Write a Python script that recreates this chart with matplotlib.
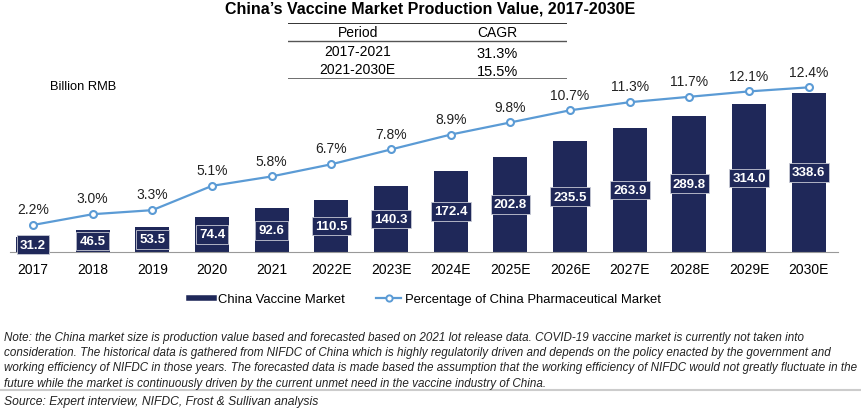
import matplotlib
matplotlib.use("Agg")
import matplotlib.pyplot as plt
from matplotlib.lines import Line2D

plt.rcParams["font.family"] = ["Liberation Sans", "DejaVu Sans"]

years = ["2017", "2018", "2019", "2020", "2021", "2022E", "2023E", "2024E",
         "2025E", "2026E", "2027E", "2028E", "2029E", "2030E"]
market = [31.2, 46.5, 53.5, 74.4, 92.6, 110.5, 140.3, 172.4, 202.8, 235.5,
          263.9, 289.8, 314.0, 338.6]
share = [2.2, 3.0, 3.3, 5.1, 5.8, 6.7, 7.8, 8.9, 9.8, 10.7, 11.3, 11.7, 12.1, 12.4]
periods = ["2017-2021", "2021-2030E"]
cagr = ["31.3%", "15.5%"]

NAVY = "#1f2859"
BLUE = "#5b9bd5"
W, H = 862, 410
NARROW = ["Liberation Sans Narrow", "Liberation Sans", "DejaVu Sans"]

fig = plt.figure(figsize=(W / 100, H / 100), dpi=100)


def fx(px):
    return px / W


def fy(py):
    return 1 - py / H


# main axes: x 10..838 px, y 60..253 px from top
ax = fig.add_axes([fx(10), fy(253), fx(828), (253 - 60) / H])
x = list(range(len(years)))
ax.bar(x, market, width=0.57, color=NAVY, zorder=2)
ax.set_ylim(0, 410)
ax.set_xlim(-0.385, 13.49)
for s in ["top", "right", "left"]:
    ax.spines[s].set_visible(False)
ax.spines["bottom"].set_color("#999999")
ax.set_yticks([])
ax.set_xticks(x)
ax.set_xticklabels(years, fontsize=10)
ax.tick_params(axis="x", length=0, pad=7)

for xi, v in zip(x, market):
    ax.text(xi, v / 2, f"{v:.1f}", ha="center", va="center", color="white",
            fontsize=9.5, fontweight="bold", zorder=4,
            bbox=dict(boxstyle="square,pad=0.25", fc=NAVY, ec="#c8cad6", lw=0.6))

ax2 = ax.twinx()
ax2.set_ylim(0.2, 14.5)
ax2.plot(x, share, color=BLUE, lw=1.6, marker="o", ms=5, mfc="white",
         mec=BLUE, mew=1.5, zorder=3)
for xi, v in zip(x, share):
    ax2.text(xi, v + 0.65, f"{v:.1f}%", ha="center", va="bottom", fontsize=10,
             color="#222222")
ax2.axis("off")

# title
fig.text(fx(430), fy(9), "China\u2019s Vaccine Market Production Value, 2017-2030E",
         ha="center", va="center", fontsize=11.5, fontweight="bold")

# CAGR table
tab = fig.add_axes([fx(288), fy(80), fx(279), (80 - 24) / H])
tab.set_xlim(0, 1)
tab.set_ylim(0, 1)
tab.axis("off")
tab.axhline(1, color="#333333", lw=1.4)
tab.axhline((80 - 42) / 56, color="#555555", lw=1.0)
tab.axhline(0, color="#555555", lw=1.2)
c1, c2 = 0.25, 0.75
tab.text(c1, (80 - 33) / 56, "Period", ha="center", va="center", fontsize=10)
tab.text(c2, (80 - 33) / 56, "CAGR", ha="center", va="center", fontsize=10)
for i, (p, c) in enumerate(zip(periods, cagr)):
    yy = (80 - (52 + i * 18)) / 56
    tab.text(c1, yy, p, ha="center", va="center", fontsize=10)
    tab.text(c2, yy - 0.03, c, ha="center", va="center", fontsize=10.5)

fig.text(fx(50), fy(87), "Billion RMB", ha="left", va="center", fontsize=9.3)

# legend
handles = [Line2D([], [], color=NAVY, lw=4),
           Line2D([], [], color=BLUE, lw=1.6, marker="o", ms=4.5, mfc="white",
                  mec=BLUE, mew=1.4)]
fig.legend(handles, ["China Vaccine Market", "Percentage of China Pharmaceutical Market"],
           loc="center", bbox_to_anchor=(fx(425), fy(300)), ncol=2, frameon=False,
           fontsize=9.4, handlelength=1.9, handletextpad=0.3, columnspacing=2.4)

note = ("Note: the China market size is production value based and forecasted based on 2021 lot release data. COVID-19 vaccine market is currently not taken into\n"
        "consideration. The historical data is gathered from NIFDC of China which is highly regulatorily driven and depends on the policy enacted by the government and\n"
        "working efficiency of NIFDC in those years. The forecasted data is made based the assumption that the working efficiency of NIFDC would not greatly fluctuate in the\n"
        "future while the market is continuously driven by the current unmet need in the vaccine industry of China.")
fig.text(fx(4), fy(332), note, ha="left", va="top", fontsize=8.4, style="italic",
         linespacing=1.36, color="#222222", family=NARROW)
fig.add_artist(Line2D([0, 1], [fy(391), fy(391)], color="#cccccc", lw=1.5))
fig.text(fx(4), fy(402), "Source: Expert interview, NIFDC, Frost & Sullivan analysis",
         ha="left", va="center", fontsize=8.7, style="italic", color="#222222",
         family=NARROW)

fig.savefig("out.png", dpi=100)
